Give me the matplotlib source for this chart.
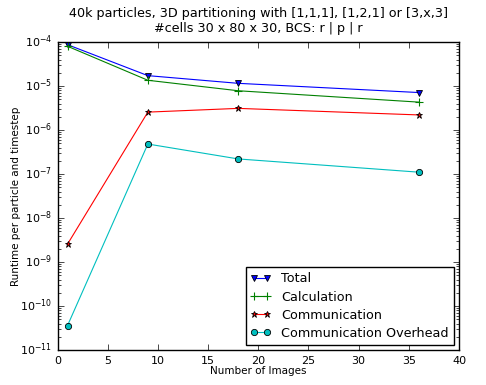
import matplotlib
matplotlib.use("Agg")
import matplotlib.pyplot as plt

images = [1, 9, 18, 36]
total = [8.7e-5, 1.72e-5, 1.15e-5, 7.1e-6]
calculation = [8.0e-5, 1.35e-5, 7.8e-6, 4.3e-6]
communication = [2.55e-9, 2.55e-6, 3.1e-6, 2.2e-6]
overhead = [3.6e-11, 4.8e-7, 2.2e-7, 1.1e-7]

plt.style.use('classic')
plt.rcParams['font.size'] = 8

fig = plt.figure(figsize=(4.86, 3.85), dpi=100, facecolor='white')
ax = fig.add_axes([57.5 / 486, 1 - 350 / 385, (459 - 57.5) / 486, (350 - 42) / 385])

ms = 4.5
ax.semilogy(images, total, 'bv-', label='Total', ms=ms, lw=0.8, mew=0.6)
ax.semilogy(images, calculation, 'g+-', label='Calculation', ms=ms + 1.5, lw=0.8, mew=0.8)
ax.semilogy(images, communication, 'r*-', label='Communication', ms=ms, lw=0.8, mew=0.6)
ax.semilogy(images, overhead, 'co-', label='Communication Overhead', ms=ms, lw=0.8, mew=0.6)

ax.set_xlim(0, 40)
ax.set_ylim(1e-11, 1e-4)
ax.set_xlabel('Number of Images', fontsize=7.5, labelpad=0)
ax.set_ylabel('Runtime per particle and timestep', fontsize=7.5, labelpad=-1)
ax.set_title('40k particles, 3D partitioning with [1,1,1], [1,2,1] or [3,x,3]\n#cells 30 x 80 x 30, BCS: r | p | r',
             fontsize=9.2, y=1.01)
ax.legend(loc='lower right', fontsize=9.2, numpoints=2, handlelength=1.6,
          labelspacing=0.4, borderaxespad=0.4)

fig.savefig('out.png', dpi=100, facecolor='white')
